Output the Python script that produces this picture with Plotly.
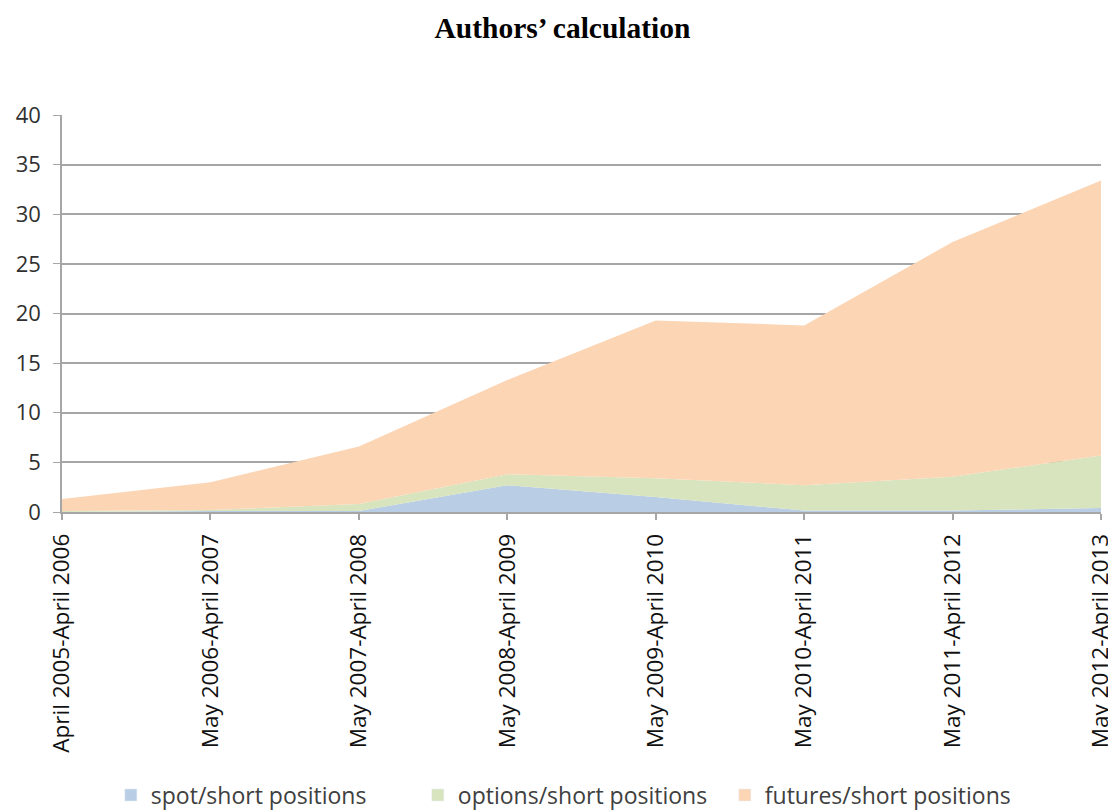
import plotly.graph_objects as go

categories = [
    "April 2005-April 2006",
    "May 2006-April 2007",
    "May 2007-April 2008",
    "May 2008-April 2009",
    "May 2009-April 2010",
    "May 2010-April 2011",
    "May 2011-April 2012",
    "May 2012-April 2013",
]
spot = [0.0, 0.1, 0.1, 2.7, 1.5, 0.15, 0.15, 0.4]
options = [0.1, 0.1, 0.7, 1.1, 1.9, 2.55, 3.4, 5.3]
futures = [1.2, 2.8, 5.8, 9.5, 15.9, 16.1, 23.65, 27.7]

series = [
    ("spot/short positions", spot, "#B9CDE5"),
    ("options/short positions", options, "#D7E4BD"),
    ("futures/short positions", futures, "#FCD5B5"),
]

fig = go.Figure()
for name, vals, col in series:
    fig.add_trace(go.Scatter(
        x=categories, y=vals, name=name, mode="none",
        stackgroup="one", fillcolor=col, showlegend=False,
        legendgroup=name,
    ))
# square legend swatches (no drawn data)
for name, vals, col in series:
    fig.add_trace(go.Bar(
        x=[categories[0]], y=[None], name=name, marker_color=col,
        legendgroup=name, showlegend=True, hoverinfo="skip",
    ))

# page body adds an 8px offset; figure may extend past the window
W, H = 1116, 830
PLOT_T, PLOT_H = 107, 397
PLOT_L, PLOT_R = 54, 1093
fig.update_layout(
    width=W, height=H,
    margin=dict(l=PLOT_L, r=W - PLOT_R, t=PLOT_T, b=H - PLOT_T - PLOT_H),
    paper_bgcolor="white", plot_bgcolor="white",
    title=dict(text="<b>Authors’ calculation</b>",
               x=554.5 / W, xanchor="center",
               xref="container", yref="container",
               y=1 - 20 / H, yanchor="middle",
               font=dict(family="Liberation Serif", size=29.5, color="black")),
    font=dict(family="Open Sans", color="#404040"),
    legend=dict(orientation="h", x=0.047, xanchor="left",
                y=-(787 - (PLOT_T + PLOT_H)) / PLOT_H, yanchor="middle",
                font=dict(size=23, color="#404040"), traceorder="normal",
                entrywidth=262, entrywidthmode="pixels"),
    showlegend=True,
)
fig.update_xaxes(
    type="category", range=[0, 7], tickangle=-90,
    tickfont=dict(size=22.5, color="#111111"),
    showline=True, linecolor="#A6A6A6", linewidth=1.5,
    ticks="outside", ticklen=6, tickcolor="#A6A6A6", tickwidth=1.5,
    ticklabelstandoff=5,
    showgrid=False, automargin=False,
)
fig.update_yaxes(
    range=[0, 40], dtick=5, tickfont=dict(size=22, color="#303030"),
    showline=True, linecolor="#A6A6A6", linewidth=1.5,
    gridcolor="#A6A6A6", gridwidth=1.5,
    ticks="outside", ticklen=7, tickcolor="#A6A6A6",
    ticklabelstandoff=8,
    zeroline=False, automargin=False,
)

fig.write_html("out.html")
